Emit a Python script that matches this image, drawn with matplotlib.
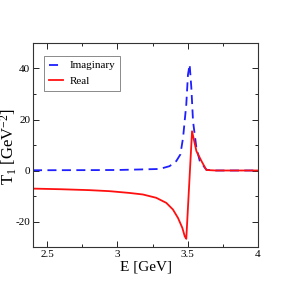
import matplotlib
matplotlib.use("Agg")
import matplotlib.pyplot as plt
from matplotlib.ticker import MultipleLocator

plt.rcParams['font.family'] = ['Liberation Serif', 'DejaVu Serif']
plt.rcParams['mathtext.fontset'] = 'custom'
plt.rcParams['mathtext.rm'] = 'Liberation Serif'
plt.rcParams['mathtext.it'] = 'Liberation Serif:italic'

E_real = [2.4, 2.6, 2.8, 2.943, 3.086, 3.181, 3.276, 3.348, 3.395, 3.431, 3.462, 3.479, 3.49,
          3.531, 3.562, 3.598, 3.633, 3.7, 3.8, 4.0]
T_real = [-7.1, -7.35, -7.7, -8.1, -8.8, -9.4, -10.7, -12.7, -15.3, -18.6, -22.5, -25.8, -26.8,
          15.4, 7.6, 3.7, 0.2, 0.0, 0.0, 0.0]

E_imag = [2.4, 2.8, 3.0, 3.157, 3.3, 3.371, 3.419, 3.448, 3.467, 3.49, 3.502, 3.514, 3.526, 3.538,
          3.562, 3.586, 3.633, 3.7, 3.8, 4.0]
T_imag = [0.1, 0.15, 0.2, 0.4, 0.6, 1.7, 3.7, 6.3, 12.8, 25.9, 37.6, 41.6, 32.4, 19.3,
          8.9, 3.7, 0.3, 0.0, 0.0, 0.0]

fig = plt.figure(figsize=(2.91, 2.91), dpi=100)
ax = fig.add_axes([33/291, 1-247/291, (258-33)/291, (247-43)/291])

ax.plot(E_imag, T_imag, color='#1f1fff', ls=(0, (5, 3)), lw=1.3, label='Imaginary')
ax.plot(E_real, T_real, color='#ff1010', lw=1.3, label='Real')

ax.set_xlim(2.4, 4.0)
ax.set_ylim(-30, 50)
ax.xaxis.set_minor_locator(MultipleLocator(0.25))
ax.yaxis.set_minor_locator(MultipleLocator(10))
ax.set_xticks([2.5, 3.0, 3.5, 4.0])
ax.set_xticklabels(['2.5', '3', '3.5', '4'])
ax.set_yticks([-20, 0, 20, 40])
ax.set_yticklabels(['-20', '0', '20', '40'])
ax.tick_params(which='both', direction='in', top=True, right=True, labelsize=8, pad=2)
ax.tick_params(which='major', length=4, width=0.6)
ax.tick_params(which='minor', length=2, width=0.6)
for s in ax.spines.values():
    s.set_linewidth(0.8)
    s.set_color('#333333')

ax.set_xlabel('E [GeV]', fontsize=11, labelpad=1)
ax.set_ylabel(r'T$_1$ [GeV$^{-2}$]', fontsize=12)
ax.yaxis.set_label_coords(-0.062, 0.49)

leg = ax.legend(loc='upper left', bbox_to_anchor=(0.05, 0.935), fontsize=8,
                frameon=True, fancybox=False, edgecolor='#555555',
                handlelength=1.3, handletextpad=0.6, borderpad=0.4, labelspacing=0.55,
                borderaxespad=0)
leg.get_frame().set_linewidth(0.6)

fig.savefig('out.png', dpi=100)
